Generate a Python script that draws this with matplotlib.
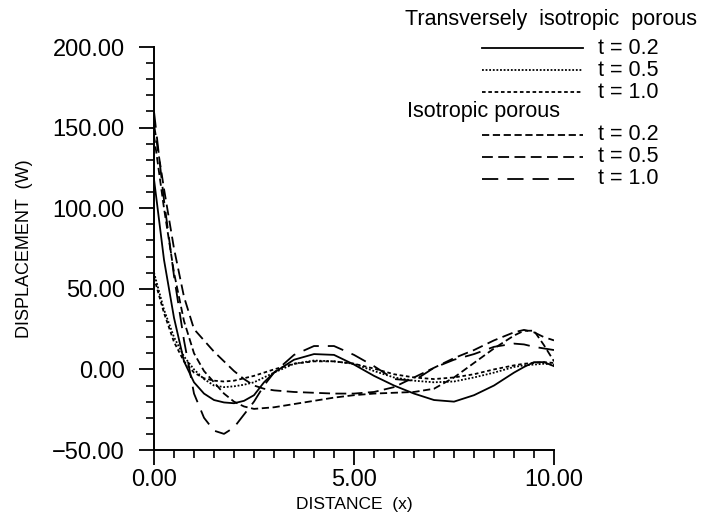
import matplotlib
matplotlib.use("Agg")
import matplotlib.pyplot as plt
from matplotlib.lines import Line2D
from matplotlib.ticker import MultipleLocator, FuncFormatter

plt.rcParams["font.family"] = ["Liberation Sans", "DejaVu Sans"]

# distance x
x = [0, 0.25, 0.5, 0.75, 1.0, 1.25, 1.5, 1.75, 2.0, 2.25, 2.5, 2.75, 3.0,
     3.5, 4.0, 4.5, 5.0, 5.5, 6.0, 6.5, 7.0, 7.5, 8.0, 8.5, 9.0, 9.25,
     9.5, 9.75, 10.0]

# transversely isotropic porous
trans_t02 = [118, 68, 32, 5, -8, -15, -19, -20.5, -21, -19.5, -16, -8, -2,
             6, 9.5, 9, 3, -4, -10, -15, -19, -20, -16, -10, -2, 1.5,
             4.5, 4.5, 2]
trans_t05 = [60, 37, 20, 8, 0, -6, -10, -11, -10.5, -9.5, -8, -5, -2,
             3.5, 5.5, 5, 3.5, -1, -5, -7, -8, -7.5, -5, -2, 1.5, 2.5,
             3, 3.5, 3]
trans_t10 = [57, 35, 17, 5, -2, -5.5, -7, -7.5, -7, -5.5, -4, -2, 0,
             3.5, 5, 5, 3.5, 0.5, -3, -5, -6, -5, -3, 0, 2.5, 3.5,
             4, 4.5, 4]

# isotropic porous
iso_t02 = [145, 100, 60, 30, 10, -1, -8, -15, -20, -23, -24.5, -24, -23.5,
           -21.5, -19.5, -17.5, -16, -15, -14.5, -14, -12, -5, 4, 13, 21,
           24, 24, 15, 5]
iso_t05 = [152, 112, 75, 45, 25, 18, 11, 5, -1, -6, -10, -12, -13,
           -14, -14.5, -15, -15, -14, -11, -5, 1, 7, 12, 18, 23, 24.5,
           23, 20, 18]
iso_t10 = [160, 105, 58, 18, -15, -30, -38, -40, -36, -28, -20, -10, -2,
           9, 14.5, 14.5, 9, 2, -6, -7, 1, 6, 9.5, 14, 16, 15.5,
           14, 13, 12]

series = [
    (trans_t02, "-"),
    (trans_t05, (0, (1, 1))),
    (trans_t10, (0, (2, 1.5))),
    (iso_t02, (0, (4, 2))),
    (iso_t05, (0, (6, 3))),
    (iso_t10, (0, (9, 5))),
]
labels = ["t = 0.2", "t = 0.5", "t = 1.0"]

W, H = 709, 524
fig = plt.figure(figsize=(W / 100, H / 100), dpi=100)
ax = fig.add_axes([154 / W, 1 - 450 / H, 400 / W, 403 / H])

for ys, ls in series:
    ax.plot(x, ys, color="black", linestyle=ls, linewidth=1.3)

ax.set_xlim(0, 10)
ax.set_ylim(-50, 200)
ax.spines["top"].set_visible(False)
ax.spines["right"].set_visible(False)
for s in ("left", "bottom"):
    ax.spines[s].set_linewidth(1.4)

fmt = FuncFormatter(lambda v, p: f"{v:.2f}".replace("-", "\u2212"))
ax.xaxis.set_major_locator(MultipleLocator(5))
ax.xaxis.set_minor_locator(MultipleLocator(0.5))
ax.yaxis.set_major_locator(MultipleLocator(50))
ax.yaxis.set_minor_locator(MultipleLocator(10))
ax.xaxis.set_major_formatter(fmt)
ax.yaxis.set_major_formatter(fmt)
ax.tick_params(which="major", direction="out", length=11, width=1.3,
               labelsize=17)
ax.tick_params(which="minor", direction="out", length=6, width=1.2)
ax.tick_params(axis="x", which="major", pad=3)
ax.tick_params(axis="y", which="major", pad=10)

ax.set_xlabel("DISTANCE  (x)", fontsize=12.5, va="center")
ax.xaxis.set_label_coords(0.5, -0.134)
ax.set_ylabel("DISPLACEMENT  (W)", fontsize=13, labelpad=14)


def fpos(px, py):
    return px / W, 1 - py / H


# hand-drawn style legend at the top right
fig.text(*fpos(405, 19), "Transversely  isotropic  porous", fontsize=15.5,
         va="center", ha="left")
fig.text(*fpos(407, 112), "Isotropic porous", fontsize=15.5,
         va="center", ha="left")
rows = [48, 70, 92, 135, 157, 179]
for i, ((_, ls), ry) in enumerate(zip(series, rows)):
    x0, y0 = fpos(482, ry)
    x1, _ = fpos(583, ry)
    fig.add_artist(Line2D([x0, x1], [y0, y0], color="black", linestyle=ls,
                          linewidth=1.3, transform=fig.transFigure))
    fig.text(*fpos(598, ry), labels[i % 3], fontsize=15.5,
             va="center", ha="left")

fig.savefig("out.png", dpi=100)
